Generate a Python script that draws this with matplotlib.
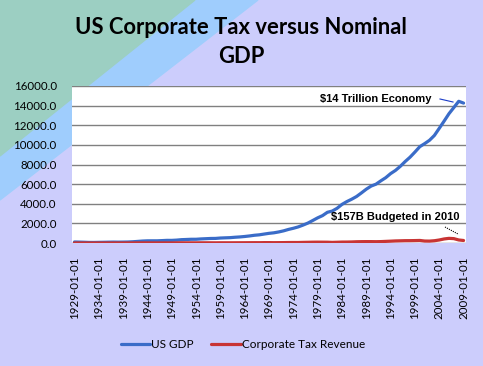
import matplotlib
matplotlib.use("Agg")
import matplotlib.pyplot as plt
from matplotlib.patches import Polygon, Rectangle
from matplotlib.lines import Line2D
import numpy as np

years = list(range(1929, 2010))
us_gdp = [103.6, 91.2, 76.5, 58.7, 56.4, 66.0, 73.3, 83.8, 91.9, 86.1,
          92.2, 101.4, 126.7, 161.9, 198.6, 219.8, 223.0, 222.3, 244.1, 269.1,
          267.2, 293.7, 339.3, 358.3, 379.4, 380.4, 414.8, 437.5, 461.1, 467.2,
          506.6, 526.4, 544.7, 585.6, 617.7, 663.6, 719.1, 787.8, 832.6, 910.0,
          984.6, 1038.5, 1127.1, 1238.3, 1382.7, 1500.0, 1638.3, 1825.3, 2030.9, 2294.7,
          2563.3, 2789.5, 3128.4, 3255.0, 3536.7, 3933.2, 4220.3, 4462.8, 4739.5, 5103.8,
          5484.4, 5803.1, 5995.9, 6337.7, 6657.4, 7072.2, 7397.7, 7816.9, 8304.3, 8747.0,
          9268.4, 9817.0, 10128.0, 10469.6, 10960.8, 11685.9, 12421.9, 13178.4, 13807.5, 14441.4,
          14258.2]
corp_tax = [1.4, 0.8, 0.5, 0.4, 0.5, 0.7, 1.0, 1.4, 1.5, 1.0,
            1.4, 2.8, 7.6, 11.4, 14.1, 12.9, 10.7, 9.1, 11.3, 12.4,
            10.2, 17.9, 22.6, 19.4, 20.3, 17.6, 22.0, 22.0, 21.4, 19.0,
            23.6, 22.7, 22.8, 24.0, 26.2, 28.0, 30.9, 33.7, 32.7, 39.4,
            39.7, 34.4, 37.7, 41.9, 49.3, 51.8, 50.9, 64.2, 73.0, 83.5,
            88.0, 84.8, 81.1, 63.1, 77.2, 94.0, 96.5, 106.5, 127.1, 137.2,
            141.5, 140.6, 133.6, 143.1, 165.4, 186.7, 211.0, 223.6, 237.1, 238.8,
            247.8, 259.4, 200.7, 193.5, 231.3, 306.2, 412.4, 473.3, 445.5, 309.0,
            254.9]
tick_labels = [f"{y}-01-01" for y in years]
series_names = ["US GDP", "Corporate Tax Revenue"]
title = "US Corporate Tax versus Nominal\nGDP"
notes = ["$14 Trillion Economy", "$157B Budgeted in 2010"]

W, H = 483, 366
fig = plt.figure(figsize=(W / 100, H / 100), dpi=100)

def px(x, y):
    return (x / W, 1 - y / H)

# background gradient bands
lav = "#cccdfc"
teal = "#9ccfc2"
blue = "#9fcdfd"
fig.patches.append(Rectangle((0, 0), 1, 1, transform=fig.transFigure, color=lav, zorder=-3))
fig.patches.append(Polygon([px(0, 0), px(258, 0), px(0, 258 / 1.29)], closed=True,
                           transform=fig.transFigure, color=blue, zorder=-2))
fig.patches.append(Polygon([px(0, 0), px(195, 0), px(0, 195 / 1.25)], closed=True,
                           transform=fig.transFigure, color=teal, zorder=-1))

left, right, top, bottom = 72, 466, 86, 243
ax = fig.add_axes([left / W, 1 - bottom / H, (right - left) / W, (bottom - top) / H])
ax.set_facecolor("white")

x = np.arange(len(years))
ax.plot(x, us_gdp, color="#3a6cc8", lw=2.3, label=series_names[0], zorder=3, solid_capstyle="round")
ax.plot(x, corp_tax, color="#c83434", lw=2.3, label=series_names[1], zorder=3, solid_capstyle="round")

ax.set_xlim(-0.5, len(years) - 0.5)
ax.set_ylim(0, 16000)
ax.set_yticks(np.arange(0, 16001, 2000))
ax.set_yticklabels([f"{v:.1f}" for v in np.arange(0, 16001, 2000)])
ax.set_xticks(x[::5])
ax.set_xticklabels(tick_labels[::5], rotation=90)
ax.grid(axis="y", color="#808080", lw=1)
ax.set_axisbelow(True)
for s in ax.spines.values():
    s.set_visible(False)
ax.tick_params(axis="both", length=0, labelsize=8.3)
ax.tick_params(axis="y", pad=11)
ax.tick_params(axis="x", pad=10)
for lab in ax.get_xticklabels() + ax.get_yticklabels():
    lab.set_fontfamily("Lato")

fig.text(241 / W, 1 - 42 / H, title, ha="center", va="center", fontsize=15.8,
         fontweight="bold", family="Lato", linespacing=1.42)

# annotations
ax.text(0.77, 0.917, notes[0], transform=ax.transAxes, ha="center", va="center",
        fontsize=8, fontweight="bold", family="Liberation Sans")
ax.text(0.82, 0.166, notes[1], transform=ax.transAxes, ha="center", va="center",
        fontsize=8, fontweight="bold", family="Liberation Sans")
fig.add_artist(Line2D([440 / W, 453 / W], [1 - 99 / H, 1 - 102 / H], transform=fig.transFigure,
                      color="#1a3cc8", lw=0.8))
fig.add_artist(Line2D([445 / W, 458 / W], [1 - 227 / H, 1 - 234 / H], transform=fig.transFigure,
                      color="black", lw=0.8, ls=(0, (1, 1))))

leg = fig.legend(loc="center", bbox_to_anchor=(243 / W, 1 - 345 / H), ncol=2, frameon=False,
                 prop={"family": "Lato", "size": 8.5}, handlelength=2.5, handletextpad=0.1,
                 columnspacing=1.5)

fig.savefig("out.png", dpi=100)
